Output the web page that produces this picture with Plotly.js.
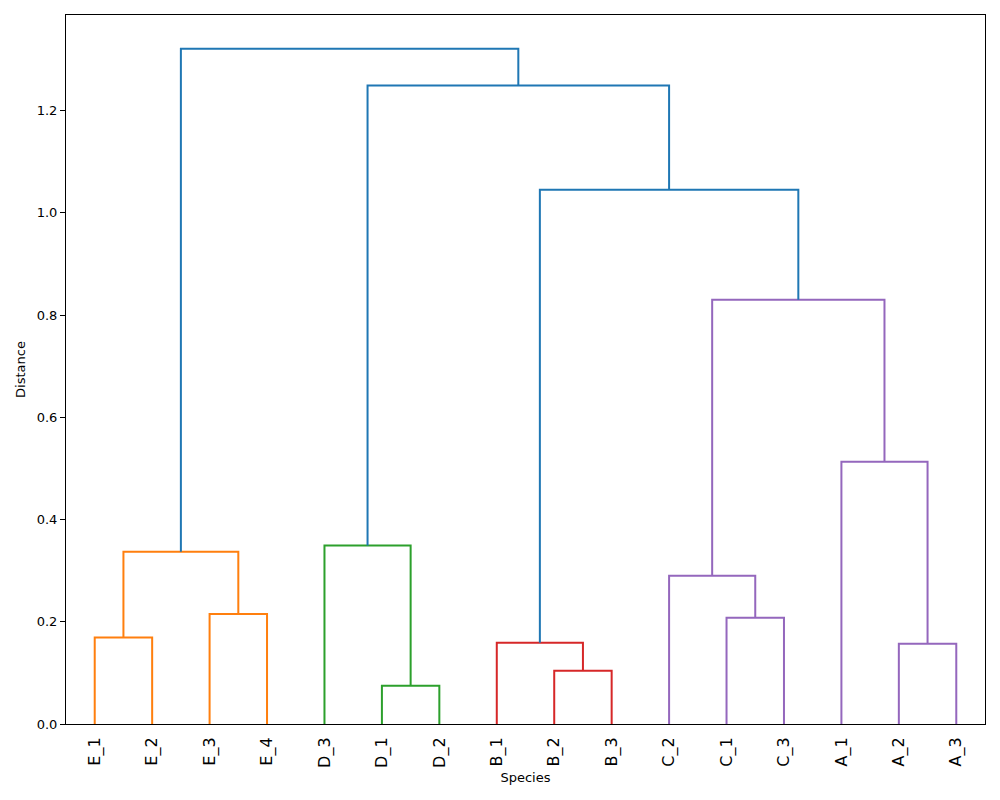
<!DOCTYPE html>
<html>
<head>
<meta charset="utf-8">
<script src="https://cdn.plot.ly/plotly-3.0.1.min.js"></script>
<style>
  html, body { margin: 0; padding: 0; background: #fff; }
  #chart { width: 1000px; height: 800px; }
</style>
</head>
<body>
<div id="chart"></div>
<script>
// Leaf order along the x axis
const leaves = ["E_1", "E_2", "E_3", "E_4", "D_3", "D_1", "D_2", "B_1", "B_2", "B_3",
                "C_2", "C_1", "C_3", "A_1", "A_2", "A_3"];

// Linkage: merge k creates node (leaves.length + k) from linkLeft[k] and linkRight[k]
const linkLeft   = [0, 2, 16, 5, 4, 8, 7, 11, 10, 14, 13, 24, 22, 20, 18];
const linkRight  = [1, 3, 17, 6, 19, 9, 21, 12, 23, 15, 25, 26, 27, 28, 29];
const linkHeight = [0.169, 0.215, 0.337, 0.075, 0.349, 0.104, 0.159, 0.208, 0.290,
                    0.157, 0.513, 0.830, 1.045, 1.249, 1.321];
const linkGroup  = ["E", "E", "E", "D", "D", "B", "B", "CA", "CA", "CA", "CA", "CA",
                    "root", "root", "root"];

const groupColor = {E: "#ff7f0e", D: "#2ca02c", B: "#d62728", CA: "#9467bd", root: "#1f77b4"};

// Node positions: leaves at 5, 15, 25, ...; merged nodes centred between children
const n = leaves.length;
const nodeX = leaves.map((_, i) => 5 + 10 * i);
const nodeH = leaves.map(() => 0);
linkLeft.forEach((l, k) => {
  const r = linkRight[k];
  nodeX.push((nodeX[l] + nodeX[r]) / 2);
  nodeH.push(linkHeight[k]);
});

// One line trace per colour group, each link drawn as an inverted U
const segs = {};
linkLeft.forEach((l, k) => {
  const r = linkRight[k];
  const g = linkGroup[k];
  if (!segs[g]) segs[g] = {x: [], y: []};
  const h = nodeH[n + k];
  segs[g].x.push(nodeX[l], nodeX[l], nodeX[r], nodeX[r], null);
  segs[g].y.push(nodeH[l], h, h, nodeH[r], null);
});

const traces = Object.keys(segs).map(g => ({
  type: "scatter",
  mode: "lines",
  x: segs[g].x,
  y: segs[g].y,
  line: {color: groupColor[g], width: 2},
  hoverinfo: "skip",
  showlegend: false
}));

const maxH = Math.max(...linkHeight);

const layout = {
  width: 1000,
  height: 800,
  margin: {l: 66, r: 15, t: 15, b: 76},
  paper_bgcolor: "#ffffff",
  plot_bgcolor: "#ffffff",
  font: {family: "DejaVu Sans, sans-serif", color: "#000"},
  showlegend: false,
  xaxis: {
    range: [0, n * 10],
    tickmode: "array",
    tickvals: nodeX.slice(0, n),
    ticktext: leaves,
    tickangle: -90,
    tickfont: {size: 16, color: "#000"},
    ticks: "outside",
    ticklen: 6,
    tickcolor: "rgba(0,0,0,0)",
    showgrid: false,
    zeroline: false,
    showline: true,
    linecolor: "#000",
    linewidth: 1,
    mirror: true,
    title: {text: "Species", font: {size: 13, color: "#000"}, standoff: 5},
    automargin: false
  },
  yaxis: {
    range: [0, maxH * 1.05],
    tickmode: "array",
    tickvals: [0, 0.2, 0.4, 0.6, 0.8, 1.0, 1.2],
    tickformat: ".1f",
    tickfont: {size: 13, color: "#000"},
    ticks: "outside",
    ticklen: 5,
    tickwidth: 1,
    tickcolor: "#000",
    showgrid: false,
    zeroline: false,
    showline: true,
    linecolor: "#000",
    linewidth: 1,
    mirror: true,
    title: {text: "Distance", font: {size: 13, color: "#000"}, standoff: 8},
    automargin: false
  }
};

Plotly.newPlot("chart", traces, layout, {displayModeBar: false, staticPlot: true});
</script>
</body>
</html>
